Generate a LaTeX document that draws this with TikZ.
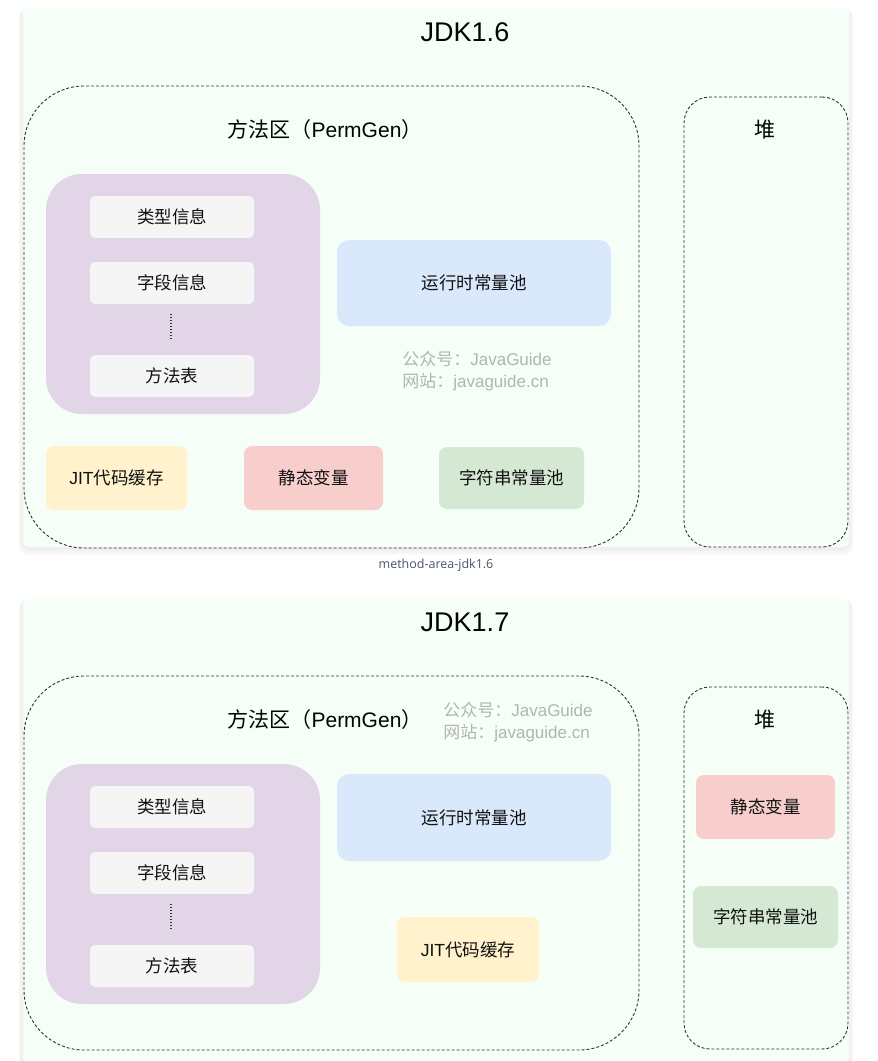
\documentclass[tikz,border=0pt]{standalone}
\usepackage{fontspec}
\setmainfont{Liberation Sans}
\newfontfamily\cjk{Noto Sans CJK SC}
\newfontfamily\capfont{Open Sans}
\definecolor{panelbg}{HTML}{F5FFF7}
\definecolor{shadowc}{HTML}{DDE0DE}
\definecolor{dashc}{HTML}{333333}
\definecolor{purplebg}{HTML}{E1D5E7}
\definecolor{graybg}{HTML}{F5F5F5}
\definecolor{bluebg}{HTML}{DAE8FC}
\definecolor{yellowbg}{HTML}{FFF2CC}
\definecolor{redbg}{HTML}{F8CECC}
\definecolor{greenbg}{HTML}{D5E8D4}
\definecolor{wmark}{HTML}{B3B3B3}
\definecolor{captc}{HTML}{4A5568}
\definecolor{txt}{HTML}{111111}
\begin{document}
\begin{tikzpicture}[x=1pt,y=-1pt,
  panel/.style={fill=panelbg, rounded corners=5pt, inner sep=0, draw=none},
  pshadow/.style={fill=shadowc, rounded corners=8pt, inner sep=0, draw=none, opacity=0.28},
  area/.style={draw=dashc, dash pattern=on 3pt off 2pt, line width=0.9pt, rounded corners=#1, inner sep=0},
  cbox/.style={rounded corners=8pt, inner sep=0, text=txt, font=\fontsize{17.5}{20}\selectfont},
  title/.style={font=\fontsize{27}{30}\selectfont, text=black},
  subtitle/.style={font=\fontsize{21}{24}\selectfont, text=black},
  wm/.style={font=\fontsize{17}{22}\selectfont, text=wmark, align=left},
  dotline/.style={line width=1.4pt, dash pattern=on 1.4pt off 1.6pt, draw=dashc}
]
\useasboundingbox (0,0) rectangle (878,1061);
\fill[white] (0,0) rectangle (878,1061);

% ---------------- JDK1.6 ----------------
\node[pshadow, minimum width=834pt, minimum height=545pt] (sh1a) at (436,281.5) {};
\node[pshadow, minimum width=830pt, minimum height=541pt] (sh1b) at (436,280) {};
\node[panel, minimum width=826pt, minimum height=539pt] (p1) at (436,277.5) {};
\node[title] (t1) at (465,32) {JDK1.6};
\node[area=60pt, minimum width=615pt, minimum height=462pt] (ma1) at (331.5,317) {};
\node[area=26pt, minimum width=164pt, minimum height=450pt] (heap1) at (766,322) {};
\node[subtitle] (mat1) at (325,130) {{\cjk 方法区（}PermGen{\cjk ）}};
\node[subtitle] (ht1) at (765,130) {\cjk 堆};
\node[cbox, fill=purplebg, rounded corners=36pt, minimum width=274pt, minimum height=240pt] (pu1) at (183,294) {};
\node[cbox, fill=graybg, rounded corners=5pt, minimum width=164pt, minimum height=42pt] (g11) at (172,217) {\cjk 类型信息};
\node[cbox, fill=graybg, rounded corners=5pt, minimum width=164pt, minimum height=42pt] (g12) at (172,283) {\cjk 字段信息};
\node[cbox, fill=graybg, rounded corners=5pt, minimum width=164pt, minimum height=42pt] (g13) at (172,376) {\cjk 方法表};
\coordinate (d1a) at (171,314);
\coordinate (d1b) at (171,340);
\draw[dotline] (d1a) -- (d1b);
\node[cbox, fill=bluebg, rounded corners=12pt, minimum width=274pt, minimum height=86pt] (rc1) at (474,283) {\cjk 运行时常量池};
\node[wm] (wm1) at (477,371) {{\cjk 公众号：}JavaGuide\\{\cjk 网站：}javaguide.cn};
\node[cbox, fill=yellowbg, minimum width=141pt, minimum height=64pt] (jit1) at (116.5,478) {JIT{\cjk 代码缓存}};
\node[cbox, fill=redbg, minimum width=139pt, minimum height=64pt] (sv1) at (313.5,478) {\cjk 静态变量};
\node[cbox, fill=greenbg, minimum width=145pt, minimum height=62pt] (sp1) at (511.5,478) {\cjk 字符串常量池};
\node[font=\capfont\fontsize{12.5}{14}\selectfont, text=captc] (cap1) at (436,565) {method-area-jdk1.6};

% ---------------- JDK1.7 ----------------
\node[pshadow, minimum width=834pt, minimum height=468pt] (sh2a) at (436,834) {};
\node[pshadow, minimum width=830pt, minimum height=466pt] (sh2b) at (436,833) {};
\node[panel, minimum width=826pt, minimum height=464pt] (p2) at (436,831) {};
\node[title] (t2) at (465,622) {JDK1.7};
\node[area=60pt, minimum width=615pt, minimum height=374pt] (ma2) at (331.5,863) {};
\node[area=26pt, minimum width=164pt, minimum height=362pt] (heap2) at (766,868) {};
\node[subtitle] (mat2) at (325,720) {{\cjk 方法区（}PermGen{\cjk ）}};
\node[subtitle] (ht2) at (765,720) {\cjk 堆};
\node[wm] (wm2) at (518,722.5) {{\cjk 公众号：}JavaGuide\\{\cjk 网站：}javaguide.cn};
\node[cbox, fill=purplebg, rounded corners=36pt, minimum width=274pt, minimum height=240pt] (pu2) at (183,884) {};
\node[cbox, fill=graybg, rounded corners=5pt, minimum width=164pt, minimum height=42pt] (g21) at (172,807) {\cjk 类型信息};
\node[cbox, fill=graybg, rounded corners=5pt, minimum width=164pt, minimum height=42pt] (g22) at (172,873) {\cjk 字段信息};
\node[cbox, fill=graybg, rounded corners=5pt, minimum width=164pt, minimum height=42pt] (g23) at (172,966) {\cjk 方法表};
\coordinate (d2a) at (171,904);
\coordinate (d2b) at (171,930);
\draw[dotline] (d2a) -- (d2b);
\node[cbox, fill=bluebg, rounded corners=12pt, minimum width=274pt, minimum height=87pt] (rc2) at (474,817.5) {\cjk 运行时常量池};
\node[cbox, fill=yellowbg, minimum width=142pt, minimum height=65pt] (jit2) at (468,949.5) {JIT{\cjk 代码缓存}};
\node[cbox, fill=redbg, minimum width=139pt, minimum height=64pt] (sv2) at (765.5,807) {\cjk 静态变量};
\node[cbox, fill=greenbg, minimum width=145pt, minimum height=62pt] (sp2) at (765.5,917) {\cjk 字符串常量池};
\end{tikzpicture}
\end{document}
